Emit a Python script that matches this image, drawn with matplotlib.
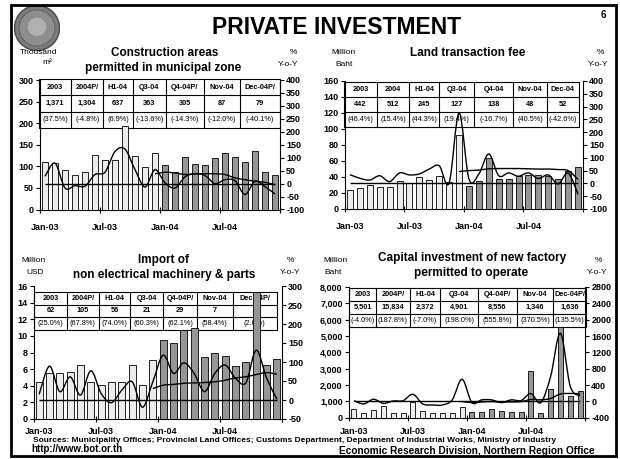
import matplotlib
matplotlib.use('Agg')
import matplotlib.pyplot as plt
import numpy as np
from matplotlib.path import Path
from matplotlib.patches import PathPatch, Rectangle, Circle

plt.rcParams['font.family'] = ['Liberation Sans', 'DejaVu Sans']

W, H = 620, 459

# x axis
tick_labels = ['Jan-03', 'Jul-03', 'Jan-04', 'Jul-04']

# construction areas, thousand m2 (Jan-03 .. Dec-04)
constr_vals = [109, 107, 92, 80, 86, 127, 115, 114, 194, 125, 98, 132,
               104, 86, 122, 106, 102, 120, 132, 122, 111, 135, 87, 79]
constr_yoy = [28, 79, -17, -8, -10, 35, 44, 124, 133, 54, -13, 54,
              3, -17, 26, 38, 31, 0, 15, 11, -42, 9, -12, -40.1]
constr_ytd = [37.5, 44, 41, 35, 38, 38, 38, 35, 22, 15, 9, 5, -4.8]  # Dec-03 .. Dec-04
constr_table = [['2003', '2004P/', 'H1-04', 'Q3-04', 'Q4-04P/', 'Nov-04', 'Dec-04P/'],
                ['1,371', '1,304', '637', '363', '305', '87', '79'],
                ['(37.5%)', '(-4.8%)', '(6.9%)', '(-13.6%)', '(-14.3%)', '(-12.0%)', '(-40.1%)']]

# land transaction fee, million baht
land_vals = [24, 26, 30, 28, 28, 35, 32, 40, 36, 41, 34, 92,
             29, 35, 64, 38, 38, 41, 43, 43, 41, 38, 48, 52]
land_yoy = [34, 20, 13, 30, 7, 41, 33, 37, 56, 69, 2, 275,
            17, 37, 115, 30, 41, 28, 41, 19, 33, -2, 40.5, -42.6]
land_ytd = [46.4, 50, 52, 57, 58, 58, 58, 57, 56, 56, 54, 50, 15.4]
land_table = [['2003', '2004', 'H1-04', 'Q3-04', 'Q4-04', 'Nov-04', 'Dec-04'],
              ['442', '512', '245', '127', '138', '48', '52'],
              ['(46.4%)', '(15.4%)', '(44.3%)', '(19.4%)', '(-16.7%)', '(40.5%)', '(-42.6%)']]

# import of non electrical machinery, million USD
imp_vals = [4.4, 5.5, 5.5, 5.6, 6.5, 4.5, 4.1, 4.5, 4.5, 6.5, 4.1, 7.1,
            9.5, 9.2, 10.7, 11.0, 7.5, 8.0, 7.6, 6.4, 6.9, 15.3, 6.5, 7.2]
imp_yoy = [15, 89, 22, 61, 13, 77, 17, -7, 26, 48, -19, 48,
           118, 70, 98, 70, 22, 70, 92, 57, 45, 131, 58.4, 2.6]
imp_ytd = [30, 39, 41, 44, 45, 46, 48, 52, 58, 61, 67, 72, 68]
imp_table = [['2003', '2004P/', 'H1-04', 'Q3-04', 'Q4-04P/', 'Nov-04', 'Dec-04P/'],
             ['62', '105', '56', '21', '29', '7', '7'],
             ['(25.0%)', '(67.8%)', '(74.0%)', '(60.3%)', '(62.1%)', '(58.4%)', '(2.6%)']]

# capital investment of new factory, million baht
cap_vals = [550, 260, 470, 690, 310, 310, 950, 440, 280, 310, 280, 650,
            350, 350, 520, 440, 350, 362, 2850, 270, 1780, 5574, 1346, 1636]
cap_yoy = [17, -63, 52, -49, 9, 17, 173, -63, -88, -88, 37, 541,
           -30, 37, 37, -30, 37, 20, 190, -30, 605, 1667, 370.5, 135.5]
cap_ytd = [-4, -30, -14, -5, -16, -12, -7, 47, 38, 71, 181, 193, 188]
cap_table = [['2003', '2004P/', 'H1-04', 'Q3-04', 'Q4-04P/', 'Nov-04', 'Dec-04P/'],
             ['5,501', '15,834', '2,372', '4,901', '8,556', '1,346', '1,636'],
             ['(-4.0%)', '(187.8%)', '(-7.0%)', '(198.0%)', '(555.8%)', '(370.5%)', '(135.5%)']]

LIGHT = '#ececec'
DARK = '#969696'

fig = plt.figure(figsize=(W / 100, H / 100), dpi=100)


def ftext(x, y, s, size, weight='normal', ha='center'):
    fig.text(x / W, 1 - y / H, s, ha=ha, va='center', fontsize=size, fontweight=weight)


def smooth_path(xs, ys):
    # excel style smoothed line (catmull-rom -> bezier)
    pts = np.column_stack([xs, ys]).astype(float)
    n = len(pts)
    verts = [pts[0]]
    codes = [Path.MOVETO]
    for i in range(n - 1):
        p0 = pts[i - 1] if i > 0 else pts[i]
        p1, p2 = pts[i], pts[i + 1]
        p3 = pts[i + 2] if i + 2 < n else pts[i + 1]
        verts += [p1 + (p2 - p0) / 6, p2 - (p3 - p1) / 6, p2]
        codes += [Path.CURVE4] * 3
    return Path(verts, codes)


def draw_table(ax, box, cols, top, bottom, cells, size):
    l, t, r, b = box
    ax_x = lambda px: (px - l) / (r - l)
    ax_y = lambda py: (b - py) / (b - t)
    x0, x1 = ax_x(cols[0]), ax_x(cols[-1])
    y0, y1 = ax_y(bottom), ax_y(top)
    ax.add_patch(Rectangle((x0, y0), x1 - x0, y1 - y0, transform=ax.transAxes,
                           facecolor='white', edgecolor='black', lw=0.8, zorder=1, clip_on=False))
    rows_y = np.linspace(y1, y0, 4)
    for yy in rows_y[1:-1]:
        ax.plot([x0, x1], [yy, yy], transform=ax.transAxes, color='black', lw=0.8,
                zorder=1.5, clip_on=False)
    for c in cols[1:-1]:
        ax.plot([ax_x(c), ax_x(c)], [y0, y1], transform=ax.transAxes, color='black', lw=0.8,
                zorder=1.5, clip_on=False)
    for ri, row in enumerate(cells):
        yc = (rows_y[ri] + rows_y[ri + 1]) / 2
        for ci, s in enumerate(row):
            xc = (ax_x(cols[ci]) + ax_x(cols[ci + 1])) / 2
            ax.text(xc, yc, s, transform=ax.transAxes, ha='center', va='center',
                    fontsize=size, fontweight='bold' if ri < 2 else 'normal', zorder=1.6)


def panel(box, vals, yoy, ytd, ylim, yticks, yfmt, rlim, rticks, cols, ttop, tbot, cells,
          width=0.6, pad=9):
    l, t, r, b = box
    ax = fig.add_axes([l / W, 1 - b / H, (r - l) / W, (b - t) / H])
    x = np.arange(len(vals))
    colors = [LIGHT] * 12 + [DARK] * 12
    ax.bar(x, vals, width=width, color=colors, edgecolor='black', linewidth=0.6, zorder=3)
    ax.set_xlim(-0.5, 23.5)
    ax.set_ylim(ylim)
    ax.set_yticks(yticks)
    ax.set_yticklabels([yfmt(v) for v in yticks], fontsize=6.5, fontweight='bold')
    ax.set_xticks([-0.5, 5.5, 11.5, 17.5, 23.5])
    ax.set_xticklabels([])
    ax.set_xticks([0, 6, 12, 18], minor=True)
    ax.set_xticklabels(tick_labels, minor=True, fontsize=6.5, fontweight='bold')
    ax.tick_params(axis='x', which='major', direction='inout', length=4, width=0.8)
    ax.tick_params(axis='x', which='minor', length=0, pad=pad)
    ax.tick_params(axis='y', direction='out', length=3, width=0.8, pad=1.5)
    for s in ['top', 'right']:
        ax.spines[s].set_visible(False)
    for s in ['left', 'bottom']:
        ax.spines[s].set_linewidth(0.8)
    draw_table(ax, box, cols, ttop, tbot, cells, 5.3)

    ax2 = ax.twinx()
    ax2.set_ylim(rlim)
    ax2.set_yticks(rticks)
    ax2.set_yticklabels([str(v) for v in rticks], fontsize=6.5, fontweight='bold')
    ax2.tick_params(axis='y', direction='out', length=3, width=0.8, pad=1.5)
    for s in ['top', 'left', 'bottom']:
        ax2.spines[s].set_visible(False)
    ax2.spines['right'].set_linewidth(0.8)
    ax2.hlines(0, 0, len(vals) - 1, color='black', lw=1.0, zorder=2)
    ax2.add_patch(PathPatch(smooth_path(x, yoy), facecolor='none', edgecolor='black', lw=1.0, zorder=3))
    ax2.add_patch(PathPatch(smooth_path(x[11:], ytd), facecolor='none', edgecolor='black', lw=1.0, zorder=3))
    return ax, ax2


comma = lambda v: f'{v:,.0f}'

panel((40, 80, 280, 209.5), constr_vals, constr_yoy, constr_ytd,
      (0, 300), range(0, 301, 50), comma, (-100, 400), list(range(-100, 401, 50)),
      [39.3, 71, 103.3, 132.7, 165.7, 204, 240, 280], 79, 128, constr_table, pad=9.5)

panel((345, 81, 583, 209), land_vals, land_yoy, land_ytd,
      (0, 160), range(0, 161, 20), comma, (-100, 400), list(range(-100, 401, 50)),
      [344.3, 376.7, 409.3, 439.3, 474, 513.3, 547.3, 578.7], 82, 127, land_table, pad=9.5)

panel((34, 286, 282, 419), imp_vals, imp_yoy, imp_ytd,
      (0, 16), range(0, 17, 2), comma, (-50, 300), list(range(-50, 301, 50)),
      [34.3, 66.7, 99, 130, 163.3, 196.7, 232.7, 276.7], 292, 330, imp_table, width=0.65, pad=6)

panel((349, 287, 585, 417.7), cap_vals, cap_yoy, cap_ytd,
      (0, 8000), range(0, 8001, 1000), comma, (-400, 2800), list(range(-400, 2801, 400)),
      [349.3, 375.7, 410, 440, 478.3, 516.7, 553.3, 586], 288, 327, cap_table, width=0.5, pad=6.5)

# logo
lax = fig.add_axes([14 / W, 1 - 51 / H, 46 / W, 46 / H])
lax.set_xlim(-1, 1)
lax.set_ylim(-1, 1)
lax.set_aspect('equal')
lax.axis('off')
lax.add_patch(Circle((0, 0), 0.98, facecolor='#7a7a7a', edgecolor='#4a4a4a', lw=1))
lax.add_patch(Circle((0, 0), 0.78, facecolor='#8e8e8e', edgecolor='#5e5e5e', lw=0.6))
lax.add_patch(Circle((0, 0.05), 0.4, facecolor='#b0b0b0', edgecolor='none'))

# frame
fig.add_artist(Rectangle((11 / W, 1 - 456 / H), 605 / W, 451 / H, transform=fig.transFigure,
                         facecolor='none', edgecolor='black', lw=2))

ftext(337, 27, 'PRIVATE INVESTMENT', 16.5, 'bold')
ftext(603, 15, '6', 7, 'bold')

ftext(165, 53, 'Construction areas', 8.5, 'bold')
ftext(163, 68, 'permitted in municipal zone', 8.5, 'bold')
ftext(39, 53, 'Thousand', 6)
ftext(47, 63, 'm²', 6)
ftext(293, 53, '%', 6)
ftext(288, 65, 'Y-o-Y', 6)

ftext(468, 53, 'Land transaction fee', 8.5, 'bold')
ftext(343, 53, 'Million', 6)
ftext(344, 64, 'Baht', 6)
ftext(600, 53, '%', 6)
ftext(598, 64, 'Y-o-Y', 6)

ftext(163, 260, 'Import of', 8.5, 'bold')
ftext(164, 275, 'non electrical machinery & parts', 8.5, 'bold')
ftext(33, 260, 'Million', 6)
ftext(35, 272, 'USD', 6)
ftext(290, 260, '%', 6)
ftext(290, 272, 'Y-o-Y', 6)

ftext(472, 258, 'Capital investment of new factory', 8.5, 'bold')
ftext(471, 273, 'permitted to operate', 8.5, 'bold')
ftext(335, 260, 'Million', 6)
ftext(333, 272, 'Baht', 6)
ftext(598, 260, '%', 6)
ftext(597, 272, 'Y-o-Y', 6)

ftext(33, 440, 'Sources: Municipality Offices; Provincial Land Offices; Customs Department, '
      'Department of Industrial Works, Ministry of Industry', 6, 'bold', ha='left')
ftext(31, 448.5, 'http://www.bot.or.th', 7, 'bold', ha='left')
ftext(595, 451, 'Economic Research Division, Northern Region Office', 7.3, 'bold', ha='right')

fig.savefig('out.png', dpi=100)
